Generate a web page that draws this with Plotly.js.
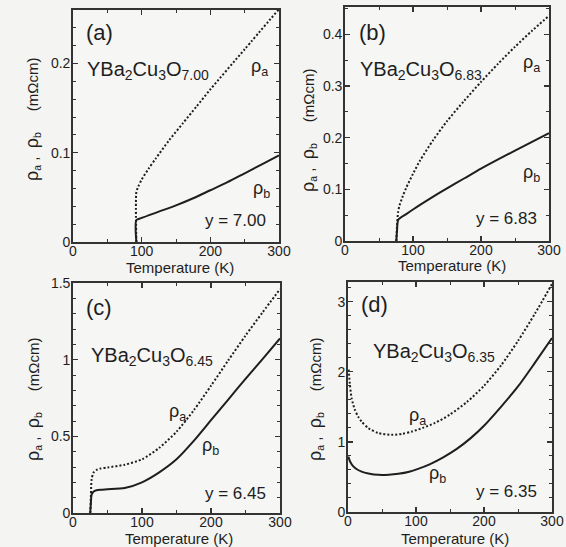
<!DOCTYPE html>
<html>
<head>
<meta charset="utf-8">
<script src="https://cdn.plot.ly/plotly-3.0.1.min.js"></script>
<style>
  html, body { margin: 0; padding: 0; background: #f4f4f2; }
  #chart { width: 566px; height: 547px; }
</style>
</head>
<body>
<div id="chart"></div>
<script>
// ---------- Data ----------
// Panel (a): YBa2Cu3O7.00
const aTempRhoA = [92.3, 92.3, 95, 100, 110, 120, 140, 160, 180, 200, 250, 300];
const aRhoA     = [0, 0.056, 0.062, 0.070, 0.082, 0.093, 0.114, 0.133, 0.152, 0.171, 0.216, 0.261];
const aTempRhoB = [92.3, 92.3, 100, 125, 150, 175, 200, 225, 250, 275, 300];
const aRhoB     = [0, 0.0246, 0.027, 0.034, 0.041, 0.049, 0.058, 0.067, 0.077, 0.087, 0.097];

// Panel (b): YBa2Cu3O6.83
const bTempRhoA = [75.5, 76.5, 78, 80, 85, 90, 100, 110, 130, 150, 175, 200, 225, 250, 275, 300];
const bRhoA     = [0, 0.03, 0.055, 0.068, 0.087, 0.103, 0.13, 0.155, 0.196, 0.232, 0.271, 0.308, 0.343, 0.376, 0.407, 0.436];
const bTempRhoB = [75.5, 76.5, 78.4, 90, 100, 125, 150, 175, 200, 250, 300];
const bRhoB     = [0, 0.02, 0.041, 0.052, 0.061, 0.082, 0.102, 0.121, 0.14, 0.175, 0.209];

// Panel (c): YBa2Cu3O6.45
const cTempRhoA = [25, 26, 27, 30, 35, 40, 50, 75, 100, 125, 150, 175, 200, 225, 250, 275, 300];
const cRhoA     = [0, 0.12, 0.22, 0.265, 0.283, 0.29, 0.297, 0.315, 0.35, 0.425, 0.53, 0.67, 0.83, 0.995, 1.157, 1.31, 1.46];
const cTempRhoB = [25, 26, 27, 30, 34, 40, 50, 75, 100, 125, 150, 175, 200, 225, 250, 275, 300];
const cRhoB     = [0, 0.07, 0.12, 0.14, 0.148, 0.152, 0.155, 0.163, 0.2, 0.265, 0.35, 0.47, 0.605, 0.74, 0.875, 1.005, 1.138];

// Panel (d): YBa2Cu3O6.35
const dTempRhoA = [1, 3, 5.4, 10, 15, 20, 30, 45, 64, 80, 94, 110, 128, 150, 175, 200, 225, 250, 275, 300];
const dRhoA     = [2.03, 1.8, 1.62, 1.46, 1.36, 1.29, 1.195, 1.125, 1.1, 1.115, 1.147, 1.2, 1.27, 1.39, 1.57, 1.8, 2.09, 2.44, 2.83, 3.25];
const dTempRhoB = [0.5, 3, 7.8, 13, 20, 30, 45, 60, 74, 90, 103, 120, 140, 160, 180, 200, 225, 250, 275, 300];
const dRhoB     = [0.79, 0.72, 0.65, 0.61, 0.576, 0.55, 0.53, 0.532, 0.545, 0.575, 0.615, 0.68, 0.78, 0.9, 1.05, 1.23, 1.5, 1.79, 2.13, 2.48];

// Text content
const panelLabels = ['(a)', '(b)', '(c)', '(d)'];
const formulas = ['YBa<sub>2</sub>Cu<sub>3</sub>O<sub>7.00</sub>',
                  'YBa<sub>2</sub>Cu<sub>3</sub>O<sub>6.83</sub>',
                  'YBa<sub>2</sub>Cu<sub>3</sub>O<sub>6.45</sub>',
                  'YBa<sub>2</sub>Cu<sub>3</sub>O<sub>6.35</sub>'];
const yLabels = ['y = 7.00', 'y = 6.83', 'y = 6.45', 'y = 6.35'];
const xTickVals = [0, 100, 200, 300];
const xTitle = 'Temperature (K)';
const yTitle = '<span style="font-size:18px">ρ</span><sub>a</sub> ,  <span style="font-size:18px">ρ</span><sub>b</sub>     (mΩcm)';

// ---------- Layout helpers ----------
const W = 566, H = 547;
const px = v => v / W;
const py = v => 1 - v / H;
const FONT = 'Liberation Sans, Arial, Helvetica, sans-serif';
const INK = '#1e1e1e';

const dotLine = {color: INK, width: 2, dash: '2px,2px', shape: 'spline', smoothing: 0.7};
const solidLine = {color: INK, width: 2, shape: 'spline', smoothing: 0.7};

function tr(x, y, line, xa, ya) {
  return {x: x, y: y, type: 'scatter', mode: 'lines', line: line,
          xaxis: xa, yaxis: ya, hoverinfo: 'skip', showlegend: false};
}

const data = [
  tr(aTempRhoA, aRhoA, dotLine, 'x', 'y'),
  tr(aTempRhoB, aRhoB, solidLine, 'x', 'y'),
  tr(bTempRhoA, bRhoA, dotLine, 'x2', 'y2'),
  tr(bTempRhoB, bRhoB, solidLine, 'x2', 'y2'),
  tr(cTempRhoA, cRhoA, dotLine, 'x3', 'y3'),
  tr(cTempRhoB, cRhoB, solidLine, 'x3', 'y3'),
  tr(dTempRhoA, dRhoA, dotLine, 'x4', 'y4'),
  tr(dTempRhoB, dRhoB, solidLine, 'x4', 'y4')
];

function xAxis(l, r, anchor) {
  return {
    domain: [px(l), px(r)], anchor: anchor, range: [0, 300],
    tickmode: 'array', tickvals: xTickVals,
    ticks: 'inside', ticklen: 5, tickwidth: 1.3, tickcolor: '#333',
    ticklabelstandoff: -5,
    minor: {dtick: 50, tick0: 0, ticks: 'inside', ticklen: 3, tickcolor: '#333', tickwidth: 1},
    showline: true, linecolor: '#333', linewidth: 1.8, mirror: 'ticks',
    showgrid: false, zeroline: false,
    tickfont: {family: FONT, size: 14, color: INK}
  };
}
function yAxis(t, b, anchor, range, dtick, minorDtick) {
  const ax = {
    domain: [py(b), py(t)], anchor: anchor, range: range,
    dtick: dtick, tick0: 0,
    ticks: 'inside', ticklen: 5, tickwidth: 1.3, tickcolor: '#333',
    ticklabelstandoff: -2,
    showline: true, linecolor: '#333', linewidth: 1.8, mirror: 'ticks',
    showgrid: false, zeroline: false,
    tickfont: {family: FONT, size: 14, color: INK}
  };
  if (minorDtick) ax.minor = {dtick: minorDtick, tick0: 0, ticks: 'inside', ticklen: 3, tickcolor: '#333', tickwidth: 1};
  return ax;
}

const ann = [];
function txt(text, x, y, size, xanchor, extra) {
  ann.push(Object.assign({text: text, x: px(x), y: py(y), xref: 'paper', yref: 'paper',
    xanchor: xanchor || 'center', yanchor: 'middle', showarrow: false,
    font: {family: FONT, size: size, color: INK}}, extra || {}));
}

// Panel (a)
txt(panelLabels[0], 84, 33, 22, 'left');
txt(formulas[0], 85, 70, 20, 'left');
txt('ρ<sub>a</sub>', 259, 67, 18);
txt('ρ<sub>b</sub>', 261, 189, 18);
txt(yLabels[0], 268, 221, 17, 'right');
txt(yTitle, 33, 120, 15, 'center', {textangle: -90});
txt(xTitle, 180, 267, 15);

// Panel (b)
txt(panelLabels[1], 357, 33, 22, 'left');
txt(formulas[1], 358, 70, 20, 'left');
txt('ρ<sub>a</sub>', 531, 64, 18);
txt('ρ<sub>b</sub>', 531, 173, 18);
txt(yLabels[1], 539, 218, 17, 'right');
txt(yTitle, 308, 131, 15, 'center', {textangle: -90});
txt(xTitle, 452, 265, 15);

// Panel (c)
txt(panelLabels[2], 84, 307, 22, 'left');
txt(formulas[2], 89, 356, 20, 'left');
txt('ρ<sub>a</sub>', 177, 412, 18);
txt('ρ<sub>b</sub>', 210, 446, 18);
txt(yLabels[2], 268, 493, 17, 'right');
txt(yTitle, 33, 400, 15, 'center', {textangle: -90});
txt(xTitle, 179, 538, 15);

// Panel (d)
txt(panelLabels[3], 359, 304, 22, 'left');
txt(formulas[3], 371, 352, 20, 'left');
txt('ρ<sub>a</sub>', 417, 416, 18);
txt('ρ<sub>b</sub>', 437, 474, 18);
txt(yLabels[3], 539, 492, 17, 'right');
txt(yTitle, 315, 400, 15, 'center', {textangle: -90});
txt(xTitle, 455, 538, 15);

const layout = {
  width: W, height: H,
  margin: {l: 0, r: 0, t: 0, b: 0},
  paper_bgcolor: '#f4f4f2', plot_bgcolor: '#f6f6f4',
  showlegend: false,
  font: {family: FONT, color: INK},
  xaxis:  xAxis(73, 279, 'y'),
  yaxis:  yAxis(10, 242, 'x', [0, 0.26], 0.1, 0.02),
  xaxis2: xAxis(345, 549, 'y2'),
  yaxis2: yAxis(7, 241, 'x2', [0, 0.453], 0.1, 0.05),
  xaxis3: xAxis(73, 280, 'y3'),
  yaxis3: yAxis(283, 513, 'x3', [0, 1.5], 0.5, 0.1),
  xaxis4: xAxis(348, 552, 'y4'),
  yaxis4: yAxis(282, 512, 'x4', [0, 3.28], 1, 0.2),
  annotations: ann
};

Plotly.newPlot('chart', data, layout, {staticPlot: true, displayModeBar: false});
</script>
</body>
</html>
